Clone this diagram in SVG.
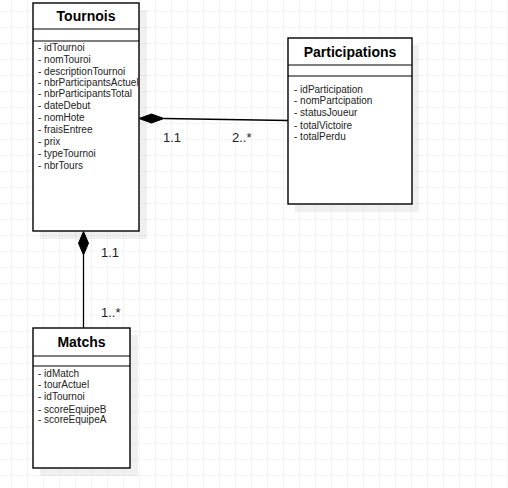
<svg xmlns="http://www.w3.org/2000/svg" width="508" height="488" viewBox="0 0 508 488">
<defs>
<pattern id="grid" x="11" y="11" width="16" height="16" patternUnits="userSpaceOnUse">
<path d="M0 0H16M0 0V16" fill="none" stroke="#ebebeb" stroke-width="1"/>
</pattern>
<style>
.box{fill:#fff;stroke:#000;stroke-width:1.4}
.shadow{fill:#000;opacity:0.06}
.div{stroke:#000;stroke-width:1.2}
.title{font-family:"Liberation Sans",Arial,sans-serif;font-size:14px;font-weight:bold;fill:#000;text-anchor:middle}
.attr{font-family:"Liberation Sans",Arial,sans-serif;font-size:10px;fill:#222}
.lbl{font-family:"Liberation Sans",Arial,sans-serif;font-size:13px;fill:#222}
.edge{stroke:#000;stroke-width:1.3;fill:none}
</style>
</defs>
<rect width="508" height="488" fill="#fff"/>
<rect width="508" height="488" fill="url(#grid)"/>

<g id="connectors">
<path class="edge" d="M164 118.5L288 120.5"/>
<path d="M139 118.5L151.5 114L164 118.5L151.5 123Z" fill="#000" stroke="#000" stroke-width="1"/>
<path class="edge" d="M83.5 255V328"/>
<path d="M83.5 231.5L88.5 243.2L83.5 255L78.5 243.2Z" fill="#000" stroke="#000" stroke-width="1"/>
<text class="lbl" x="163" y="141.5">1.1</text>
<text class="lbl" x="232" y="141.5">2..*</text>
<text class="lbl" x="101" y="256.5">1.1</text>
<text class="lbl" x="101" y="316.5">1..*</text>
</g>

<g id="tournois">
<rect class="shadow" x="40" y="10" width="107" height="229"/>
<rect class="box" x="33" y="3" width="106" height="228"/>
<line class="div" x1="33" y1="29" x2="139" y2="29"/>
<line class="div" x1="33" y1="41" x2="139" y2="41"/>
<text class="title" x="86" y="21">Tournois</text>
<text class="attr" x="38" y="51">- idTournoi</text>
<text class="attr" x="38" y="63">- nomTouroi</text>
<text class="attr" x="38" y="74.5">- descriptionTournoi</text>
<text class="attr" x="38" y="86">- nbrParticipantsActuel</text>
<text class="attr" x="38" y="97">- nbrParticipantsTotal</text>
<text class="attr" x="38" y="109">- dateDebut</text>
<text class="attr" x="38" y="121">- nomHote</text>
<text class="attr" x="38" y="133">- fraisEntree</text>
<text class="attr" x="38" y="145">- prix</text>
<text class="attr" x="38" y="157">- typeTournoi</text>
<text class="attr" x="38" y="169">- nbrTours</text>
</g>

<g id="participations">
<rect class="shadow" x="295" y="45" width="124" height="167"/>
<rect class="box" x="288" y="38" width="124" height="166"/>
<line class="div" x1="288" y1="65" x2="412" y2="65"/>
<line class="div" x1="288" y1="76" x2="412" y2="76"/>
<text class="title" x="350" y="57">Participations</text>
<text class="attr" x="294" y="93">- idParticipation</text>
<text class="attr" x="294" y="104">- nomPartcipation</text>
<text class="attr" x="294" y="116">- statusJoueur</text>
<text class="attr" x="294" y="129">- totalVictoire</text>
<text class="attr" x="294" y="140">- totalPerdu</text>
</g>

<g id="matchs">
<rect class="shadow" x="40" y="335" width="98" height="141"/>
<rect class="box" x="33" y="328" width="97" height="140"/>
<line class="div" x1="33" y1="356" x2="130" y2="356"/>
<line class="div" x1="33" y1="366" x2="130" y2="366"/>
<text class="title" x="81.5" y="347">Matchs</text>
<text class="attr" x="38" y="377">- idMatch</text>
<text class="attr" x="38" y="388">- tourActuel</text>
<text class="attr" x="38" y="400">- idTournoi</text>
<text class="attr" x="38" y="412.5">- scoreEquipeB</text>
<text class="attr" x="38" y="422.5">- scoreEquipeA</text>
</g>
</svg>
